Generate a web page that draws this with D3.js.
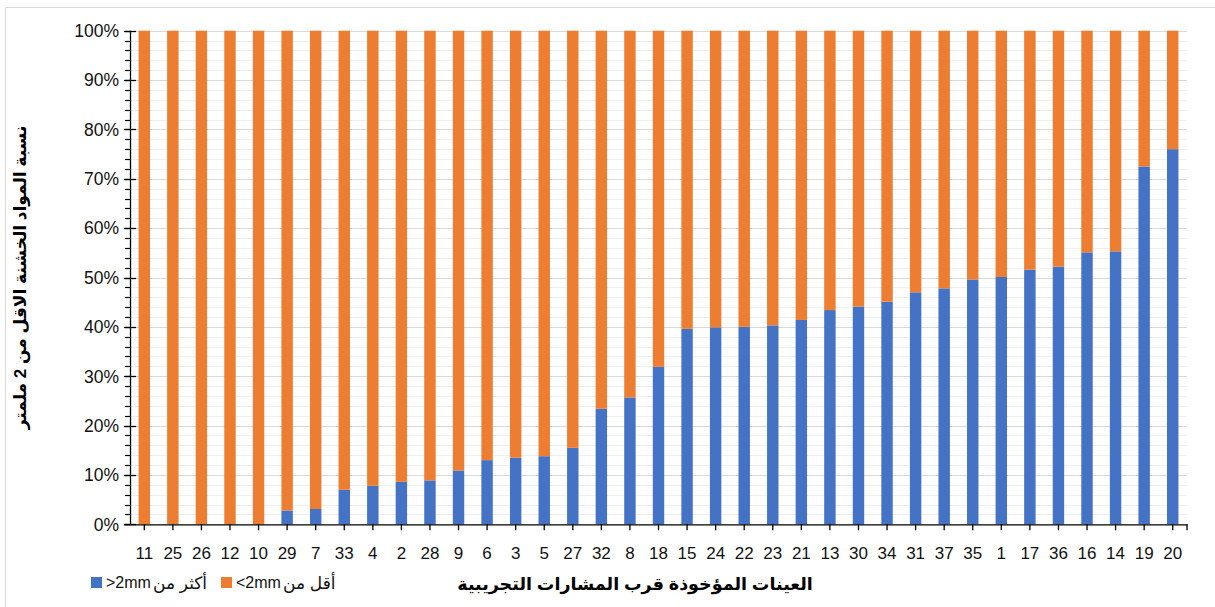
<!DOCTYPE html>
<html><head><meta charset="utf-8">
<script src="https://cdn.jsdelivr.net/npm/d3@7"></script>
<style>
html,body{margin:0;padding:0;background:#fff;}
svg{display:block;}
text{font-family:"Liberation Sans","DejaVu Sans",Arial,sans-serif;}
</style></head>
<body>
<svg id="chart" width="1215" height="607"></svg>
<script>
// ---- data ----
const categories = ["11","25","26","12","10","29","7","33","4","2","28","9","6","3","5","27","32","8","18","15","24","22","23","21","13","30","34","31","37","35","1","17","36","16","14","19","20"];
const coarseOver2mm = [0,0,0,0,0,2.8,3.1,7.0,7.8,8.6,8.9,10.9,13.0,13.5,13.8,15.5,23.4,25.7,31.9,39.6,39.9,40.0,40.3,41.4,43.4,44.1,45.1,47.0,47.8,49.6,50.1,51.6,52.2,55.1,55.3,72.5,76.0];
const fineUnder2mm = coarseOver2mm.map(v => 100 - v);
const seriesNames = [">2mm", "<2mm"];
const seriesLabelsAr = ["أكثر من", "أقل من"];
const yTicks = [0,10,20,30,40,50,60,70,80,90,100];
const yTitle = "نسبة المواد الخشنة الاقل من 2 ملمتر";
const xTitle = "العينات المؤخوذة قرب المشارات التجريبية";

// ---- layout ----
const svg = d3.select("#chart");
const L = 130, R = 1187, T = 30.7, B = 524.3;
const blue = "#4472C4", orange = "#ED7D31";

// chart area border
svg.append("path").attr("d", "M5.5,700 V7.5 H1300")
  .attr("fill","none").attr("stroke","#d9d9d9").attr("stroke-width",1);

const x = d3.scaleBand().domain(categories).range([L, R]).paddingInner(0.6).paddingOuter(0.3);
const y = d3.scaleLinear().domain([0, 100]).range([B, T]);

// minor gridlines
const minor = d3.range(2, 100, 2).filter(v => v % 10 !== 0);
svg.append("g").selectAll("line").data(minor).join("line")
  .attr("x1", L).attr("x2", R)
  .attr("y1", d => Math.round(y(d)) + 0.5).attr("y2", d => Math.round(y(d)) + 0.5)
  .attr("stroke", "#f0f0f0").attr("stroke-width", 1);
// major gridlines
svg.append("g").selectAll("line").data(yTicks.filter(v => v > 0)).join("line")
  .attr("x1", L).attr("x2", R)
  .attr("y1", d => Math.round(y(d)) + 0.5).attr("y2", d => Math.round(y(d)) + 0.5)
  .attr("stroke", "#d9d9d9").attr("stroke-width", 1.2);

// stacked bars
const rows = categories.map((c, i) => ({cat: c, a: coarseOver2mm[i], b: fineUnder2mm[i]}));
const stack = d3.stack().keys(["a", "b"])(rows);
const colors = [blue, orange];
svg.append("g").selectAll("g").data(stack).join("g")
  .attr("fill", (d, i) => colors[i])
  .selectAll("rect").data(d => d).join("rect")
  .attr("x", d => x(d.data.cat))
  .attr("width", x.bandwidth())
  .attr("y", d => y(d[1]))
  .attr("height", d => Math.max(0, y(d[0]) - y(d[1])));

// y axis with minor ticks
const yAxisG = svg.append("g");
yAxisG.append("line").attr("x1", L + 0.5).attr("x2", L + 0.5).attr("y1", T).attr("y2", B + 0.5)
  .attr("stroke", "#000").attr("stroke-width", 1.3);
yAxisG.selectAll("line.minor").data(d3.range(0, 101, 2)).join("line").attr("class","minor")
  .attr("x1", L - 5).attr("x2", L)
  .attr("y1", d => Math.round(y(d)) + 0.5).attr("y2", d => Math.round(y(d)) + 0.5)
  .attr("stroke", "#000").attr("stroke-width", 1.2);
yAxisG.selectAll("line.major").data(yTicks).join("line").attr("class","major")
  .attr("x1", L - 6).attr("x2", L + 6)
  .attr("y1", d => Math.round(y(d)) + 0.5).attr("y2", d => Math.round(y(d)) + 0.5)
  .attr("stroke", "#000").attr("stroke-width", 1.3);
yAxisG.selectAll("text").data(yTicks).join("text")
  .attr("x", L - 11).attr("y", d => y(d)).attr("dy", "0.36em")
  .attr("text-anchor", "end").attr("font-size", 17.5).attr("fill", "#111")
  .text(d => d + "%");

// x axis
const xAxisG = svg.append("g");
xAxisG.append("line").attr("x1", L - 6).attr("x2", R + 0.5).attr("y1", B + 0.5).attr("y2", B + 0.5)
  .attr("stroke", "#000").attr("stroke-width", 1.3);
xAxisG.selectAll("line.t").data(categories).join("line").attr("class","t")
  .attr("x1", d => x(d) + x.bandwidth() / 2).attr("x2", d => x(d) + x.bandwidth() / 2)
  .attr("y1", B).attr("y2", B + 6)
  .attr("stroke", "#000").attr("stroke-width", 1.3);
xAxisG.append("line").attr("x1", R).attr("x2", R).attr("y1", B).attr("y2", B + 6)
  .attr("stroke", "#000").attr("stroke-width", 1.3);
xAxisG.selectAll("text").data(categories).join("text")
  .attr("x", d => x(d) + x.bandwidth() / 2).attr("y", 559)
  .attr("text-anchor", "middle").attr("font-size", 17).attr("fill", "#111")
  .text(d => d);

// axis titles
svg.append("text").attr("transform", `translate(26,${(T + B) / 2}) rotate(-90)`)
  .attr("text-anchor", "middle").attr("font-size", 17).attr("font-weight", "bold")
  .attr("direction", "rtl").attr("fill", "#000").text(yTitle);
svg.append("text").attr("x", 635).attr("y", 590)
  .attr("text-anchor", "middle").attr("font-size", 17.5).attr("font-weight", "bold")
  .attr("direction", "rtl").attr("fill", "#000").text(xTitle);

// legend
const leg = [
  {color: blue, en: seriesNames[0], ar: seriesLabelsAr[0], x: 91},
  {color: orange, en: seriesNames[1], ar: seriesLabelsAr[1], x: 221}
];
const lg = svg.append("g").selectAll("g").data(leg).join("g");
lg.append("rect").attr("x", d => d.x).attr("y", 577).attr("width", 11).attr("height", 11).attr("fill", d => d.color);
lg.append("text").attr("x", d => d.x + 15).attr("y", 588).attr("font-size", 16).attr("fill", "#111").text(d => d.en);
lg.append("text").attr("x", d => d.x + 62).attr("y", 589).attr("font-size", 17).attr("fill", "#111").text(d => d.ar);
</script>
</body></html>
